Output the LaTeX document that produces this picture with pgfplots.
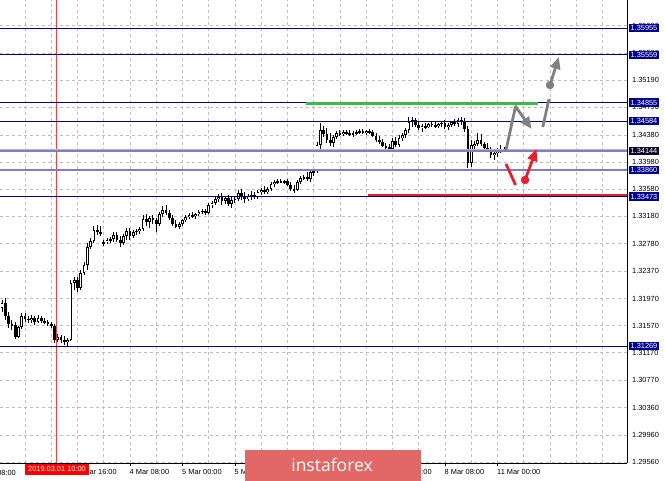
\documentclass[border=0pt]{standalone}
\usepackage{pgfplots}
\pgfplotsset{compat=1.18}
\usepackage{pgfplotstable}
\usepackage{fontspec}
\setmainfont{Liberation Sans}
\newfontfamily\wmfont{Open Sans}
\usetikzlibrary{arrows.meta}

\definecolor{mtnavy}{RGB}{0,0,140}
\definecolor{mtlav}{RGB}{125,125,200}
\definecolor{mtgrid}{RGB}{190,190,190}
\definecolor{mtbid}{RGB}{185,185,185}
\definecolor{mtgreen}{RGB}{56,188,80}
\definecolor{mtred}{RGB}{232,30,40}
\definecolor{mtvline}{RGB}{250,60,60}
\definecolor{mtgray}{RGB}{128,128,128}
\definecolor{wmred}{RGB}{226,104,104}
\definecolor{bidbox}{RGB}{8,8,40}
\newcommand\lbl{\fontsize{7.4}{8.5}\selectfont}

% GBPUSD H1, x = trading hours from 1 Mar 00:00
\pgfplotstableread{
h o hi lo c
-7 1.31830 1.31948 1.31771 1.31903
-6 1.31903 1.31977 1.31653 1.31712
-5 1.31712 1.31771 1.31535 1.31594
-4 1.31594 1.31653 1.31506 1.31565
-3 1.31579 1.31623 1.31373 1.31402
-2 1.31402 1.31565 1.31388 1.31550
-1 1.31550 1.31756 1.31520 1.31712
0 1.31712 1.31756 1.31623 1.31668
1 1.31668 1.31712 1.31609 1.31653
2 1.31653 1.31727 1.31609 1.31683
3 1.31683 1.31712 1.31579 1.31623
4 1.31623 1.31727 1.31609 1.31683
5 1.31683 1.31712 1.31609 1.31638
6 1.31638 1.31683 1.31594 1.31623
7 1.31623 1.31653 1.31565 1.31594
8 1.31594 1.31623 1.31535 1.31565
9 1.31565 1.31594 1.31314 1.31358
10 1.31358 1.31447 1.31329 1.31402
11 1.31402 1.31432 1.31314 1.31358
12 1.31358 1.31417 1.31284 1.31329
13 1.31329 1.31388 1.31270 1.31358
14 1.31358 1.32243 1.31343 1.32199
15 1.32199 1.32287 1.32095 1.32243
16 1.32243 1.32287 1.32066 1.32125
17 1.32125 1.32390 1.32095 1.32346
18 1.32346 1.32508 1.32317 1.32464
19 1.32464 1.32788 1.32390 1.32729
20 1.32729 1.32862 1.32700 1.32818
21 1.32818 1.33039 1.32788 1.32980
22 1.32980 1.33053 1.32906 1.32950
23 1.32950 1.33039 1.32891 1.32921
24 1.32788 1.32832 1.32744 1.32803
25 1.32803 1.32862 1.32773 1.32832
26 1.32832 1.32877 1.32788 1.32847
27 1.32847 1.32950 1.32803 1.32906
28 1.32906 1.32950 1.32803 1.32832
29 1.32832 1.32891 1.32729 1.32788
30 1.32788 1.32921 1.32759 1.32891
31 1.32891 1.33009 1.32832 1.32965
32 1.32965 1.33009 1.32832 1.32891
33 1.32891 1.32980 1.32862 1.32950
34 1.32950 1.32994 1.32906 1.32965
35 1.32965 1.33024 1.32921 1.32994
36 1.32994 1.33201 1.32965 1.33142
37 1.33142 1.33215 1.33039 1.33097
38 1.33097 1.33186 1.33009 1.33156
39 1.33156 1.33201 1.33068 1.33127
40 1.33127 1.33156 1.32950 1.33068
41 1.33068 1.33245 1.33039 1.33215
42 1.33215 1.33333 1.33171 1.33274
43 1.33274 1.33348 1.33201 1.33230
44 1.33230 1.33274 1.33127 1.33156
45 1.33156 1.33201 1.33039 1.33068
46 1.33068 1.33127 1.33009 1.33024
47 1.33024 1.33097 1.32994 1.33068
48 1.33068 1.33142 1.33039 1.33127
49 1.33127 1.33201 1.33097 1.33171
50 1.33171 1.33230 1.33142 1.33201
51 1.33201 1.33245 1.33156 1.33186
52 1.33186 1.33230 1.33142 1.33215
53 1.33215 1.33274 1.33186 1.33245
54 1.33245 1.33289 1.33215 1.33259
55 1.33259 1.33289 1.33201 1.33230
56 1.33230 1.33378 1.33215 1.33348
57 1.33348 1.33407 1.33304 1.33378
58 1.33378 1.33481 1.33348 1.33436
59 1.33436 1.33510 1.33392 1.33466
60 1.33466 1.33525 1.33348 1.33407
61 1.33407 1.33481 1.33363 1.33451
62 1.33451 1.33495 1.33333 1.33363
63 1.33363 1.33466 1.33304 1.33422
64 1.33422 1.33481 1.33378 1.33436
65 1.33436 1.33569 1.33407 1.33525
66 1.33525 1.33584 1.33422 1.33466
67 1.33466 1.33539 1.33378 1.33436
68 1.33436 1.33510 1.33407 1.33481
69 1.33481 1.33554 1.33422 1.33495
70 1.33495 1.33539 1.33436 1.33466
71 1.33466 1.33569 1.33436 1.33539
72 1.33539 1.33598 1.33495 1.33569
73 1.33569 1.33628 1.33510 1.33539
74 1.33539 1.33613 1.33510 1.33584
75 1.33584 1.33687 1.33554 1.33657
76 1.33657 1.33716 1.33613 1.33687
77 1.33687 1.33731 1.33657 1.33701
78 1.33701 1.33731 1.33672 1.33687
79 1.33687 1.33716 1.33657 1.33701
80 1.33701 1.33731 1.33628 1.33643
81 1.33643 1.33687 1.33554 1.33584
82 1.33584 1.33643 1.33525 1.33569
83 1.33569 1.33716 1.33554 1.33687
84 1.33687 1.33775 1.33657 1.33746
85 1.33746 1.33790 1.33716 1.33760
86 1.33760 1.33834 1.33701 1.33731
87 1.33731 1.33864 1.33687 1.33834
88 1.33834 1.33878 1.33775 1.33849
89 1.33849 1.34276 1.33819 1.34232
90 1.34232 1.34556 1.34158 1.34453
91 1.34453 1.34512 1.34350 1.34394
92 1.34394 1.34483 1.34262 1.34306
93 1.34306 1.34409 1.34217 1.34262
94 1.34262 1.34379 1.34203 1.34350
95 1.34350 1.34438 1.34320 1.34409
96 1.34409 1.34453 1.34365 1.34394
97 1.34394 1.34453 1.34365 1.34424
98 1.34424 1.34453 1.34379 1.34409
99 1.34409 1.34453 1.34365 1.34394
100 1.34394 1.34438 1.34350 1.34409
101 1.34409 1.34453 1.34379 1.34424
102 1.34424 1.34468 1.34394 1.34438
103 1.34438 1.34468 1.34394 1.34409
104 1.34409 1.34453 1.34379 1.34438
105 1.34438 1.34468 1.34394 1.34424
106 1.34424 1.34453 1.34350 1.34365
107 1.34365 1.34409 1.34276 1.34306
108 1.34306 1.34365 1.34247 1.34276
109 1.34276 1.34320 1.34203 1.34217
110 1.34217 1.34262 1.34173 1.34203
111 1.34203 1.34247 1.34144 1.34173
112 1.34173 1.34335 1.34158 1.34291
113 1.34291 1.34350 1.34203 1.34232
114 1.34232 1.34379 1.34203 1.34335
115 1.34335 1.34409 1.34291 1.34379
116 1.34379 1.34483 1.34335 1.34453
117 1.34453 1.34645 1.34409 1.34571
118 1.34571 1.34645 1.34497 1.34601
119 1.34601 1.34630 1.34497 1.34527
120 1.34527 1.34586 1.34453 1.34483
121 1.34483 1.34542 1.34424 1.34512
122 1.34512 1.34556 1.34468 1.34497
123 1.34497 1.34556 1.34483 1.34542
124 1.34542 1.34571 1.34497 1.34527
125 1.34527 1.34571 1.34483 1.34512
126 1.34512 1.34556 1.34483 1.34542
127 1.34542 1.34586 1.34497 1.34556
128 1.34556 1.34601 1.34468 1.34497
129 1.34497 1.34556 1.34453 1.34527
130 1.34527 1.34586 1.34497 1.34571
131 1.34571 1.34615 1.34512 1.34542
132 1.34542 1.34630 1.34497 1.34601
133 1.34601 1.34645 1.34527 1.34571
134 1.34571 1.34630 1.34424 1.34468
135 1.34468 1.34512 1.33893 1.33967
136 1.33967 1.34306 1.33908 1.34232
137 1.34217 1.34291 1.34158 1.34247
138 1.34247 1.34409 1.34217 1.34306
139 1.34306 1.34394 1.34217 1.34247
140 1.34247 1.34276 1.34144 1.34188
141 1.34188 1.34262 1.34129 1.34158
142 1.34158 1.34203 1.34041 1.34085
143 1.34085 1.34158 1.34011 1.34114
144 1.34114 1.34188 1.34055 1.34144
145 1.34144 1.34232 1.34114 1.34173
146 1.34173 1.34203 1.34144 1.34144
}\candles

\begin{document}
\begin{tikzpicture}
\useasboundingbox (0,-18pt) rectangle (665pt,463pt);
\begin{axis}[
  at={(0,0)}, anchor=south west,
  scale only axis, width=627pt, height=463pt,
  xmin=-7.62, xmax=183.47, ymin=1.29545, ymax=1.36369,
  axis x line*=bottom, axis y line*=right,
  axis line style={black, line width=0.9pt},
  clip mode=individual,
  tick align=outside, major tick length=3pt, minor tick length=0pt,
  xtick={0,16,32,48,64,80,96,112,128,144},
  xticklabels={1 Mar 00:00,1 Mar 16:00,4 Mar 08:00,5 Mar 00:00,5 Mar 16:00,6 Mar 08:00,7 Mar 00:00,7 Mar 16:00,8 Mar 08:00,11 Mar 00:00},
  minor xtick={8,24,40,56,72,88,104,120,136,152,160,168,176},
  xmajorgrids, xminorgrids, ymajorgrids,
  grid style={mtgrid, dash pattern=on 3pt off 3pt, line width=0.6pt},
  minor grid style={mtgrid, dash pattern=on 3pt off 3pt, line width=0.6pt},
  xtick style={black, line width=0.7pt},
  ytick style={draw=none},
  ytick={1.29560,1.29960,1.30360,1.30770,1.31170,1.31570,1.31970,1.32370,1.32780,1.33180,1.33580,1.33980,1.34380,1.34790,1.35190,1.35590,1.35990},
  yticklabels={1.29560,1.29960,1.30360,1.30770,1.31170,1.31570,1.31970,1.32370,1.32780,1.33180,1.33580,1.33980,1.34380,1.34790,1.35190,1.35590,1.35990},
  tick label style={font=\lbl, black},
  xticklabel style={anchor=north west, inner sep=0pt, xshift=-0.5pt, yshift=-3.5pt},
  yticklabel style={anchor=west, inner sep=0pt, xshift=2pt},
  scaled ticks=false,
]
% wicks
\addplot[draw=none, mark=none, forget plot, error bars/.cd, y dir=both, y explicit, error mark=none,
  error bar style={draw=black, line width=1pt}]
  table[x=h, y expr={(\thisrow{hi}+\thisrow{lo})/2}, y error expr={(\thisrow{hi}-\thisrow{lo})/2}] {\candles};
% bodies
\addplot[draw=none, mark=none, forget plot, error bars/.cd, y dir=both, y explicit, error mark=none,
  error bar style={draw=black, line width=2.7pt}]
  table[x=h, y expr={(\thisrow{o}+\thisrow{c})/2}, y error expr={max(abs(\thisrow{c}-\thisrow{o})/2,0.00005)}] {\candles};
% hollow bull bodies
\addplot[draw=none, mark=none, forget plot, error bars/.cd, y dir=both, y explicit, error mark=none,
  error bar style={draw=white, line width=1.1pt}]
  table[x=h, y expr={(\thisrow{o}+\thisrow{c})/2}, y error expr={max((\thisrow{c}-\thisrow{o})/2-0.0001,0)}] {\candles};

% red vertical line
\addplot[draw=mtvline, line width=1pt] coordinates {(9.75,1.29545) (9.75,1.36369)};
% horizontal levels
\addplot[draw=mtnavy, line width=1pt] coordinates {(-7.62,1.35955) (183.47,1.35955)};
\addplot[draw=mtnavy, line width=1pt] coordinates {(-7.62,1.35559) (183.47,1.35559)};
\addplot[draw=mtnavy, line width=1pt] coordinates {(-7.62,1.34855) (183.47,1.34855)};
\addplot[draw=mtnavy, line width=1pt] coordinates {(-7.62,1.34584) (183.47,1.34584)};
\addplot[draw=mtbid, line width=0.8pt] coordinates {(-7.62,1.34166) (183.47,1.34166)};
\addplot[draw=mtlav, line width=1.6pt] coordinates {(-7.62,1.34144) (183.47,1.34144)};
\addplot[draw=mtlav, line width=1.6pt] coordinates {(-7.62,1.33860) (183.47,1.33860)};
\addplot[draw=mtnavy, line width=1pt] coordinates {(-7.62,1.33473) (183.47,1.33473)};
\addplot[draw=mtnavy, line width=1pt] coordinates {(-7.62,1.31269) (183.47,1.31269)};
% resistance and support
\addplot[draw=mtgreen, line width=2.8pt] coordinates {(85.6,1.34848) (156.3,1.34848)};
\addplot[draw=mtred, line width=2.8pt] coordinates {(104.6,1.33495) (183.47,1.33495)};
% forecast arrows
\addplot[draw=mtgray, line width=2.8pt, line join=round, -{Triangle[length=12pt,width=10pt]}]
  coordinates {(146.6,1.34158) (149.5,1.34800) (154.4,1.34468)};
\addplot[draw=mtgray, line width=2.8pt] coordinates {(157.8,1.34497) (159.7,1.34910)};
\addplot[draw=mtgray, line width=2.8pt, -{Triangle[length=12pt,width=10pt]}]
  coordinates {(160.0,1.35116) (162.7,1.35529)};
\addplot[mtgray, only marks, mark=*, mark size=4pt] coordinates {(160.0,1.35116)};
\addplot[draw=mtred, line width=2.8pt] coordinates {(146.6,1.33952) (149.5,1.33643)};
\addplot[draw=mtred, line width=2.8pt, -{Triangle[length=12pt,width=10pt]}]
  coordinates {(152.4,1.33716) (155.9,1.34173)};
\addplot[mtred, only marks, mark=*, mark size=4pt] coordinates {(152.4,1.33716)};

% price labels
\pgfplotsinvokeforeach{1.35955,1.35559,1.34855,1.34584,1.33860,1.33473,1.31269}{
  \node[fill=mtnavy, text=white, font=\lbl, inner xsep=1.8pt, inner ysep=1.4pt, text height=5.4pt, text depth=0.3pt, anchor=west]
    at (axis cs:183.47,#1) [xshift=1.6pt] {#1};
}
\node[fill=bidbox, text=white, font=\lbl, inner xsep=1.8pt, inner ysep=1.4pt, text height=5.4pt, text depth=0.3pt, anchor=west]
  at (axis cs:183.47,1.34144) [xshift=1.6pt] {1.34144};
% time labels
\node[font=\lbl, anchor=north west, inner sep=0pt] at (axis cs:-16,1.29545) [xshift=-0.5pt, yshift=-6.5pt] {28 Feb 08:00};
\node[fill=red, text=white, font=\lbl, inner xsep=3pt, inner ysep=2pt, text height=5.4pt, text depth=1.5pt, anchor=north]
  at (axis cs:9.75,1.29545) [yshift=-1pt] {2019.03.01 10:00};
\end{axis}
% watermark
\fill[wmred] (245pt,-18pt) rectangle (421pt,13pt);
\node[text=white, font=\wmfont\fontsize{17.5}{18}\selectfont, inner sep=0pt] at (332pt,-2pt) {instaforex};
\end{tikzpicture}
\end{document}
